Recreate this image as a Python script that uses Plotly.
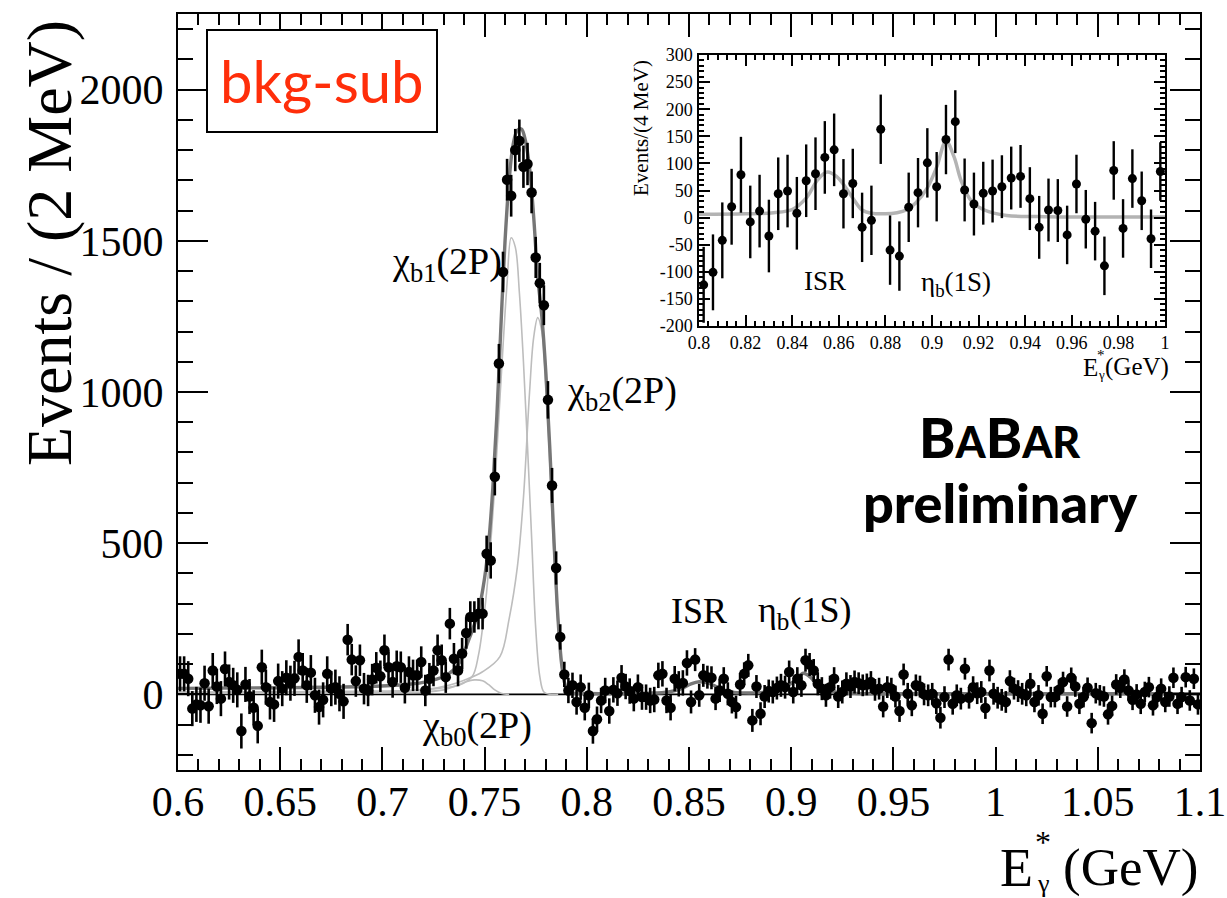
import plotly.graph_objects as go

# ---------------- main histogram (2 MeV bins, 0.6 - 1.1 GeV) ----------------
bin_start = 0.601
bin_width = 0.002
events = [
    # 0.601 - 0.681
    68, 68, 52, -47, -33, -36, 37, -39, 79, 26, -14, 84, 41, 30, 15, -121, 33, -7, -44, -104,
    90, 24, -25, -33, 44, 19, 55, 37, 53, 124, 79, 30, 72, -3, -42, -18, 68, 19, 24, 2, -23,
    # 0.683 - 0.749
    181, 115, 44, 113, 19, 13, 49, 88, 60, 146, 90, 41, 93, 90, 22, 74, 63, 63, 107, 13,
    52, 79, 146, 113, 57, 234, 118, 79, 135, 203, 256, 256, 267, 267,
    # 0.751 - 0.785
    465, 443, 720, 1094, 1397, 1702, 1649, 1800, 1831, 1745, 1754, 1660, 1445, 1360, 1287,
    974, 691, 418,
    # 0.787 - 0.849
    190, 66, 13, 30, -25, 24, -44, -3, -121, -82, -20, 13, -55, 15, 4, 55, 26, 11, -14, 24,
    -9, -9, -20, -17, 63, 68, -20, -44, 52, 35, 38, 104,
    # 0.851 - 0.931
    -25, 115, -3, 63, 57, 55, -14, 13, 52, 2, -25, -42, 33, 68, 96, -86, 26, -64, -7, 11,
    8, 21, 30, 24, 74, 8, 52, 30, 113, 99, 79, 35, 19, -3, 24, 52, -7, 8, 35, 26, 41,
    # 0.933 - 1.017
    37, 30, 33, 41, 15, 19, -40, 24, 19, -7, -55, 66, 2, -36, 30, 26, 0, -3, 2, -29,
    -77, -9, 115, -31, -3, -14, 85, -11, 24, 4, 8, -45, 79, 2, -11, -18, -25, 44, 19, 11,
    2, -3, 35,
    # 1.019 - 1.099
    -25, -3, -64, 60, -9, -9, 15, 41, -40, 55, 26, -31, -9, 22, -95, 4, -3, -7, -66, -38,
    33, 22, 49, 13, -18, 0, -31, 8, 24, -36, -9, 19, -25, -7, 55, -31, -9, 57, -20, 52, -33,
]
errors = ([58] * 41 + [52] * 34 +
          [60, 60, 62, 65, 67, 69, 69, 70, 70, 70, 70, 69, 68, 67, 66, 62, 58, 55] +
          [42] * 32 + [38] * 41 + [36] * 43 + [34] * 41)
bin_centers = [round(bin_start + bin_width * i, 4) for i in range(len(events))]

# fit curves
total_x = [0.600, 0.650, 0.690, 0.710, 0.720, 0.726, 0.731, 0.737, 0.742, 0.747, 0.750, 0.752,
           0.754, 0.756, 0.758, 0.760, 0.762, 0.764, 0.766, 0.768, 0.770, 0.772, 0.774, 0.776,
           0.778, 0.780, 0.782, 0.784, 0.786, 0.788, 0.790, 0.793, 0.800, 0.830, 0.840, 0.846,
           0.851, 0.855, 0.859, 0.863, 0.866, 0.870, 0.876, 0.885, 0.893, 0.898, 0.902, 0.906,
           0.9094, 0.9125, 0.917, 0.9225, 0.932, 0.950, 1.100]
total_y = [20, 22, 26, 32, 40, 50, 62, 98, 176, 275, 385, 500,
           680, 920, 1220, 1500, 1700, 1820, 1865, 1870, 1830, 1740, 1580, 1380,
           1250, 1060, 800, 500, 242, 85, 22, 5, 3, 4, 8, 18,
           35, 42, 38, 27, 18, 8, 5, 6, 14, 28, 47, 70,
           57, 34, 15, 7, 3, 2, 2]

chib1_x = [0.600, 0.650, 0.700, 0.720, 0.730, 0.738, 0.744, 0.747, 0.749, 0.751, 0.753, 0.755,
           0.757, 0.759, 0.761, 0.763, 0.765, 0.767, 0.769, 0.771, 0.773, 0.775, 0.777, 0.779,
           0.782, 0.786]
chib1_y = [8, 9, 11, 15, 22, 32, 60, 130, 220, 340, 500, 690,
           920, 1150, 1360, 1510, 1480, 1330, 1100, 820, 520, 220, 60, 8,
           0, 0]

chib2_x = [0.600, 0.650, 0.700, 0.720, 0.733, 0.740, 0.749, 0.7575, 0.762, 0.766, 0.769, 0.772,
           0.774, 0.776, 0.778, 0.780, 0.782, 0.784, 0.786, 0.788, 0.790, 0.793]
chib2_y = [5, 6, 8, 15, 31, 47, 75, 125, 250, 420, 650, 1000,
           1180, 1246, 1200, 1020, 750, 450, 220, 70, 12, 0]

chib0_x = [0.600, 0.700, 0.720, 0.730, 0.736, 0.741, 0.745, 0.749, 0.752, 0.755, 0.758, 0.762]
chib0_y = [3, 5, 8, 15, 28, 42, 48, 45, 32, 15, 4, 0]

# ---------------- inset (4 MeV bins, 0.8 - 1.0 GeV) ----------------
inset_start = 0.802
inset_width = 0.004
inset_events = [-124, -101, -42, 20, 79, -8, 12, -34, 44, 49, 8, 68, 81, 111, 125, 44, 63, -18,
                -5, 163, -60, -71, 19, 46, 101, 57, 144, 177, 51, 25, 45, 49, 57, 73, 76, 35,
                -18, 14, 13, -32, 62, -3, -25, -89, 87, -20, 72, 31, -39, 85]
inset_errors = [70] * 5 + [67] * 10 + [64] * 12 + [58] * 12 + [54] * 11
inset_centers = [round(inset_start + inset_width * i, 4) for i in range(len(inset_events))]

inset_fit_x = [0.800, 0.820, 0.832, 0.840, 0.846, 0.851, 0.855, 0.859, 0.863, 0.866, 0.870,
               0.874, 0.880, 0.885, 0.889, 0.893, 0.898, 0.902, 0.906, 0.9094, 0.9125, 0.917,
               0.9225, 0.932, 0.945, 0.960, 1.000]
inset_fit_y = [6, 7, 9, 15, 36, 70, 84, 76, 55, 36, 14,
               8, 7, 9, 14, 27, 55, 93, 141, 113, 68, 30,
               14, 4, 2, 1, 1]

main_xticks = [0.6, 0.65, 0.7, 0.75, 0.8, 0.85, 0.9, 0.95, 1.0, 1.05, 1.1]
main_xlabels = ["0.6", "0.65", "0.7", "0.75", "0.8", "0.85", "0.9", "0.95", "1", "1.05", "1.1"]
main_yticks = [0, 500, 1000, 1500, 2000]
inset_xticks = [0.8, 0.82, 0.84, 0.86, 0.88, 0.9, 0.92, 0.94, 0.96, 0.98, 1.0]
inset_xlabels = ["0.8", "0.82", "0.84", "0.86", "0.88", "0.9", "0.92", "0.94", "0.96", "0.98", "1"]
inset_yticks = [-200, -150, -100, -50, 0, 50, 100, 150, 200, 250, 300]

SERIF = "Liberation Serif, Times New Roman, serif"
SANS = "Lato, Open Sans, sans-serif"
LIGHT = "#bdbdbd"
DARK = "#767676"

# plot-area geometry (pixels) used to place paper-referenced texts
L, R, T, B = 178, 1200, 14, 770
W, H = R - L, B - T


def px(xp):
    return (xp - L) / W


def py(yp):
    return (B - yp) / H


fig = go.Figure()

for cx, cy in [(chib1_x, chib1_y), (chib2_x, chib2_y), (chib0_x, chib0_y)]:
    fig.add_trace(go.Scatter(x=cx, y=cy, mode="lines", line=dict(color=LIGHT, width=1.6, shape="spline"),
                             hoverinfo="skip", showlegend=False))
fig.add_trace(go.Scatter(x=total_x, y=total_y, mode="lines", line=dict(color=DARK, width=3.4, shape="spline"),
                         hoverinfo="skip", showlegend=False))
fig.add_trace(go.Scatter(x=bin_centers, y=events, mode="markers",
                         marker=dict(color="black", size=10.5),
                         error_y=dict(type="data", array=errors, color="black", thickness=2.6, width=0),
                         showlegend=False))

# inset traces
fig.add_trace(go.Scatter(x=inset_fit_x, y=inset_fit_y, mode="lines", xaxis="x2", yaxis="y2",
                         line=dict(color="#b3b3b3", width=3.5, shape="spline"),
                         hoverinfo="skip", showlegend=False))
fig.add_trace(go.Scatter(x=inset_centers, y=inset_events, mode="markers", xaxis="x2", yaxis="y2",
                         marker=dict(color="black", size=9),
                         error_y=dict(type="data", array=inset_errors, color="black", thickness=2.4, width=0),
                         showlegend=False))

# zero lines
fig.add_shape(type="line", xref="x domain", yref="y", x0=0, x1=1, y0=0, y1=0,
              line=dict(color="black", width=1.6), layer="below")
fig.add_shape(type="line", xref="x2 domain", yref="y2", x0=0, x1=1, y0=0, y1=0,
              line=dict(color="black", width=1.6), layer="below")

# bkg-sub box
fig.add_shape(type="rect", xref="paper", yref="paper", x0=px(207), x1=px(437), y0=py(132), y1=py(30),
              line=dict(color="black", width=2), fillcolor="white")

ann = []
ann.append(dict(text="bkg-sub", x=px(322), y=py(80), xref="paper", yref="paper", showarrow=False,
                font=dict(family=SANS, size=58, color="#ff2e0a"), xanchor="center", yanchor="middle"))
ann.append(dict(text="B<span style='font-size:43px'>A</span>B<span style='font-size:43px'>AR</span>",
                x=px(1000), y=py(437), xref="paper", yref="paper", showarrow=False,
                font=dict(family=SANS, size=55, color="black", weight=900), xanchor="center", yanchor="middle"))
ann.append(dict(text="preliminary", x=px(1000), y=py(502), xref="paper", yref="paper", showarrow=False,
                font=dict(family=SANS, size=54, color="black", weight=900), xanchor="center", yanchor="middle"))

lbl_font = dict(family=SERIF, size=38, color="black")
ann.append(dict(text="χ<sub>b1</sub>(2P)", x=0.7037, y=1423, xref="x", yref="y", showarrow=False,
                font=lbl_font, xanchor="left", yanchor="middle"))
ann.append(dict(text="χ<sub>b2</sub>(2P)", x=0.7893, y=998, xref="x", yref="y", showarrow=False,
                font=lbl_font, xanchor="left", yanchor="middle"))
ann.append(dict(text="χ<sub>b0</sub>(2P)", x=0.7184, y=-112, xref="x", yref="y", showarrow=False,
                font=lbl_font, xanchor="left", yanchor="middle"))
ann.append(dict(text="ISR", x=0.8400, y=275, xref="x", yref="y", showarrow=False,
                font=dict(family=SERIF, size=36, color="black"), xanchor="left", yanchor="middle"))
ann.append(dict(text="η<sub>b</sub>(1S)", x=0.8830, y=272, xref="x", yref="y", showarrow=False,
                font=dict(family=SERIF, size=36, color="black"), xanchor="left", yanchor="middle"))

# inset labels
ins_font = dict(family=SERIF, size=27, color="black")
ann.append(dict(text="ISR", x=0.8442, y=-117, xref="x2", yref="y2", showarrow=False,
                font=ins_font, xanchor="left", yanchor="middle"))
ann.append(dict(text="η<sub>b</sub>(1S)", x=0.8944, y=-122, xref="x2", yref="y2", showarrow=False,
                font=ins_font, xanchor="left", yanchor="middle"))

# axis titles
ann.append(dict(text="Events / (2 MeV)", x=px(49), y=py(243), xref="paper", yref="paper", showarrow=False,
                textangle=-90, font=dict(family=SERIF, size=64, color="black"),
                xanchor="center", yanchor="middle"))
ann.append(dict(text="E", x=px(1016), y=py(868), xref="paper", yref="paper", showarrow=False,
                font=dict(family=SERIF, size=54, color="black"), xanchor="center", yanchor="middle"))
ann.append(dict(text="*", x=px(1043), y=py(842), xref="paper", yref="paper", showarrow=False,
                font=dict(family=SERIF, size=32, color="black"), xanchor="center", yanchor="middle"))
ann.append(dict(text="γ", x=px(1043), y=py(884), xref="paper", yref="paper", showarrow=False,
                font=dict(family=SERIF, size=26, color="black"), xanchor="center", yanchor="middle"))
ann.append(dict(text="(GeV)", x=px(1130), y=py(868), xref="paper", yref="paper", showarrow=False,
                font=dict(family=SERIF, size=53, color="black"), xanchor="center", yanchor="middle"))

ann.append(dict(text="Events/(4 MeV)", x=px(641), y=py(128), xref="paper", yref="paper", showarrow=False,
                textangle=-90, font=dict(family=SERIF, size=21, color="black"),
                xanchor="center", yanchor="middle"))
ann.append(dict(text="E", x=px(1090), y=py(367), xref="paper", yref="paper", showarrow=False,
                font=dict(family=SERIF, size=25, color="black"), xanchor="center", yanchor="middle"))
ann.append(dict(text="*", x=px(1101), y=py(355), xref="paper", yref="paper", showarrow=False,
                font=dict(family=SERIF, size=15, color="black"), xanchor="center", yanchor="middle"))
ann.append(dict(text="γ", x=px(1101), y=py(374), xref="paper", yref="paper", showarrow=False,
                font=dict(family=SERIF, size=13, color="black"), xanchor="center", yanchor="middle"))
ann.append(dict(text="(GeV)", x=px(1137), y=py(367), xref="paper", yref="paper", showarrow=False,
                font=dict(family=SERIF, size=25, color="black"), xanchor="center", yanchor="middle"))

fig.update_layout(
    width=1227, height=898, autosize=False,
    margin=dict(l=L, r=1227 - R, t=T, b=898 - B, autoexpand=False),
    paper_bgcolor="white", plot_bgcolor="white",
    showlegend=False,
    annotations=ann,
    xaxis=dict(range=[0.6, 1.1], tickmode="array", tickvals=main_xticks, ticktext=main_xlabels,
               ticks="inside", ticklen=23, tickwidth=2, tickcolor="black",
               minor=dict(tickmode="linear", tick0=0.6, dtick=0.01, ticks="inside", ticklen=11,
                          tickwidth=2, tickcolor="black"),
               showline=True, linewidth=2, linecolor="black", mirror="ticks",
               showgrid=False, zeroline=False, ticklabelstandoff=-6, automargin=False,
               tickfont=dict(family=SERIF, size=42, color="black")),
    yaxis=dict(range=[-250, 2250], tickmode="array", tickvals=main_yticks,
               ticktext=[str(v) for v in main_yticks],
               ticks="inside", ticklen=30, tickwidth=2, tickcolor="black",
               minor=dict(tickmode="linear", tick0=0, dtick=100, ticks="inside", ticklen=15,
                          tickwidth=2, tickcolor="black"),
               showline=True, linewidth=2, linecolor="black", mirror="ticks",
               showgrid=False, zeroline=False, ticklabelstandoff=4, automargin=False,
               tickfont=dict(family=SERIF, size=42, color="black")),
    xaxis2=dict(domain=[px(699), px(1165)], anchor="y2", range=[0.8, 1.0], tickmode="array",
                tickvals=inset_xticks, ticktext=inset_xlabels,
                ticks="inside", ticklen=11, tickwidth=1.5, tickcolor="black",
                minor=dict(tickmode="linear", tick0=0.8, dtick=0.004, ticks="inside", ticklen=5,
                           tickwidth=1.5, tickcolor="black"),
                showline=True, linewidth=1.5, linecolor="black", mirror="ticks",
                showgrid=False, zeroline=False, ticklabelstandoff=0, automargin=False,
                tickfont=dict(family=SERIF, size=18, color="black")),
    yaxis2=dict(domain=[py(326), py(55)], anchor="x2", range=[-200, 300], tickmode="array",
                tickvals=inset_yticks, ticktext=[str(v) for v in inset_yticks],
                ticks="inside", ticklen=11, tickwidth=1.5, tickcolor="black",
                minor=dict(tickmode="linear", tick0=0, dtick=10, ticks="inside", ticklen=5,
                           tickwidth=1.5, tickcolor="black"),
                showline=True, linewidth=1.5, linecolor="black", mirror="ticks",
                showgrid=False, zeroline=False, ticklabelstandoff=1, automargin=False,
                tickfont=dict(family=SERIF, size=18, color="black")),
)

fig.write_html("out.html")
